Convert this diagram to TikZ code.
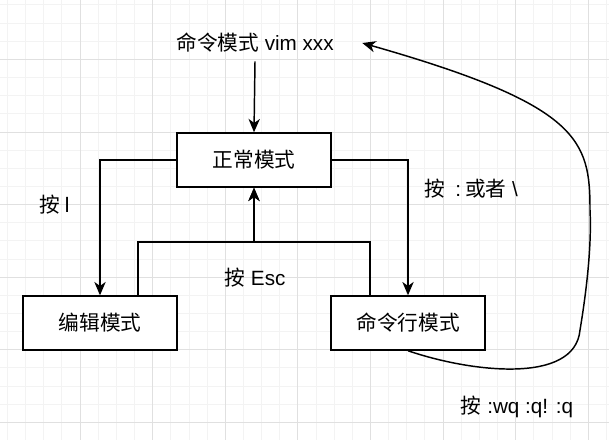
\documentclass[tikz,border=0pt]{standalone}
\usepackage{fontspec}
\setmainfont{Liberation Sans}
\newfontfamily\cjk{Noto Sans CJK SC}
\usetikzlibrary{arrows.meta,calc}
\definecolor{gridmin}{HTML}{F3F3F3}
\definecolor{gridmaj}{HTML}{E0E0E0}

\begin{document}
\begin{tikzpicture}[x=0.75pt,y=-0.75pt,font=\fontsize{15.5}{19}\selectfont,
  modebox/.style={draw,line width=1.1pt,fill=white,inner sep=0pt,
    minimum width=115.5pt,minimum height=40.5pt},
  wire/.style={line width=1.1pt},
  link/.style={wire,-{Stealth[length=10pt,width=8.5pt,inset=3pt]}}]
  \useasboundingbox (0,0) rectangle (609,440);
  % background grid
  \foreach \k in {0,...,33} \draw[gridmin,line width=0.6pt] (7.4+18.15*\k,0) -- ++(0,440);
  \foreach \k in {0,...,23} \draw[gridmin,line width=0.6pt] (0,4.85+18.15*\k) -- ++(609,0);
  \foreach \k in {1,...,8} \draw[gridmaj,line width=0.6pt] (7.4+72.6*\k,0) -- ++(0,440);
  \foreach \k in {0,...,5} \draw[gridmaj,line width=0.6pt] (0,59.3+72.6*\k) -- ++(609,0);

  % modes
  \node (vimcmd) [minimum width=160.5pt,minimum height=27pt,inner sep=0pt] at (255,43) {{\cjk 命令模式} vim xxx};
  \node (normal) [modebox] at (254,160) {\cjk 正常模式};
  \node (edit) [modebox] at (100,323) {\cjk 编辑模式};
  \node (cmdline) [modebox] at (408,323) {\cjk 命令行模式};
  \coordinate (escjoin) at (254,242);

  % transitions
  \draw[link] (vimcmd.south) -- (normal.north);
  \draw[link] (normal.west) -| (edit.north);
  \draw[link] (normal.east) -| (cmdline.north);
  \draw[link] ($(edit.north)+(38,0)$) |- (escjoin) -- (normal.south);
  \draw[link] ($(cmdline.north)+(-38,0)$) |- (escjoin) -- (normal.south);
  \draw[link] (cmdline.south) .. controls (470,372) and (575,385) .. (580,330)
    .. controls (585,300) and (592,250) .. (590,210)
    .. controls (590,140) and (580,105) .. (vimcmd.east);

  % key labels
  \node (keyi) at (55,205) {\cjk 按 I};
  \node (keycolon) at (471,189) {{\cjk 按}\hspace{8pt}:\hspace{3pt}{\cjk 或者} \textbackslash};
  \node (keyesc) at (255,278) {{\cjk 按} Esc};
  \node (keyquit) at (517,407) {{\cjk 按} :wq :q! :q};
\end{tikzpicture}
\end{document}
